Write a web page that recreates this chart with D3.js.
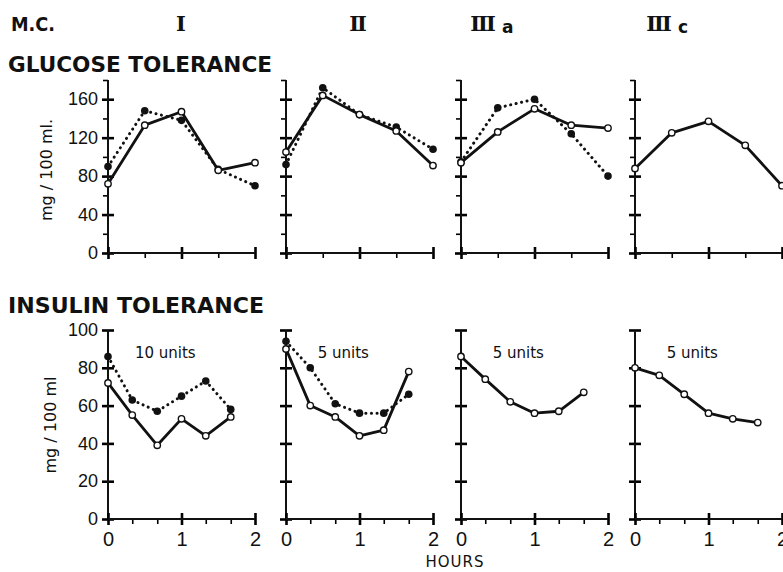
<!DOCTYPE html>
<html>
<head>
<meta charset="utf-8">
<script src="https://cdn.jsdelivr.net/npm/d3@7"></script>
<style>
  body { margin: 0; background: #fff; }
  svg { display: block; font-family: "DejaVu Sans", "Liberation Sans", sans-serif; }
  .tick text { font-size: 18px; fill: #111; }
</style>
</head>
<body>
<svg width="783" height="572"></svg>
<script>
// values (mg/100 ml)
const glucoseHours = [0, 0.5, 1, 1.5, 2];
const insulinHours = [0, 0.33, 0.67, 1, 1.33, 1.67];
const panelNames = ["I", "II", "III", "III"];
const panelSubs = ["", "", "a", "c"];
const doseLabels = ["10 units", "5 units", "5 units", "5 units"];

const glucoseSolid = [
    [72, 133, 147, 86, 94],
    [105, 164, 144, 127, 91],
    [94, 126, 150, 133, 130],
    [88, 125, 137, 112, 70]
];
const glucoseDotted = [
    [90, 148, 138, 87, 70],
    [92, 172, 144, 131, 108],
    [95, 151, 160, 124, 80],
    null
];
const insulinSolid = [
    [72, 55, 39, 53, 44, 54],
    [90, 60, 54, 44, 47, 78],
    [86, 74, 62, 56, 57, 67],
    [80, 76, 66, 56, 53, 51]
];
const insulinDotted = [
    [86, 63, 57, 65, 73, 58],
    [94, 80, 61, 56, 56, 66],
    null,
    null
];

const glucoseMajor = [0, 40, 80, 120, 160];
const glucoseMinor = [20, 60, 100, 140, 180];
const insulinMajor = [0, 20, 40, 60, 80, 100];
const gHourMajor = [0, 1, 2];
const gHourMinor = [0.5, 1.5];
const iHourMinor = [0.33, 0.67, 1.33, 1.67];

const svg = d3.select("svg");
const panelLeft = [108, 286, 461, 635];
const panelW = 147;

const gY = d3.scaleLinear().domain([0, 180]).range([253, 80]);
const iY = d3.scaleLinear().domain([0, 100]).range([519, 330]);

function drawPanel(i, y, yMajor, yMinor, series, hours, xMinor, labelsY, labelsX) {
    const x = d3.scaleLinear().domain([0, 2]).range([panelLeft[i], panelLeft[i] + panelW]);
    const g = svg.append("g");
    const y0 = y(0);

    // y axis
    const ya = g.append("g").attr("transform", `translate(${x(0)},0)`)
        .call(d3.axisLeft(y).tickValues(yMajor).tickSize(6).tickSizeOuter(0).tickPadding(4)
            .tickFormat(labelsY ? d3.format("d") : ""));
    ya.select(".domain").remove();
    ya.selectAll(".tick line").attr("x1", 6).attr("stroke-width", 2.6);
    if (yMinor) {
        const ym = g.append("g").attr("transform", `translate(${x(0)},0)`)
            .call(d3.axisLeft(y).tickValues(yMinor).tickSize(5).tickFormat(""));
        ym.select(".domain").remove();
        ym.selectAll(".tick line").attr("stroke-width", 1.6);
    }
    g.append("line").attr("x1", x(0)).attr("x2", x(0))
        .attr("y1", y0).attr("y2", y(y.domain()[1]))
        .attr("stroke", "#111").attr("stroke-width", 2);

    // x axis
    const xa = g.append("g").attr("transform", `translate(0,${y0})`)
        .call(d3.axisBottom(x).tickValues(gHourMajor).tickSize(6).tickSizeOuter(0).tickPadding(7)
            .tickFormat(labelsX ? d3.format("d") : ""));
    xa.select(".domain").remove();
    xa.selectAll(".tick line").attr("y1", -6).attr("stroke-width", 2.6);
    xa.selectAll(".tick text").style("font-size", "20px");
    const xm = g.append("g").attr("transform", `translate(0,${y0})`)
        .call(d3.axisBottom(x).tickValues(xMinor).tickSize(5).tickFormat(""));
    xm.select(".domain").remove();
    xm.selectAll(".tick line").attr("stroke-width", 1.6);
    g.append("line").attr("x1", x(0)).attr("x2", x(2))
        .attr("y1", y0).attr("y2", y0)
        .attr("stroke", "#111").attr("stroke-width", 2);

    const line = d3.line().x(d => x(d[0])).y(d => y(d[1]));
    const [solid, dotted] = series;

    if (dotted) {
        const pts = hours.map((h, k) => [h, dotted[k]]);
        g.append("path").datum(pts).attr("d", line)
            .attr("fill", "none").attr("stroke", "#111").attr("stroke-width", 3)
            .attr("stroke-linecap", "round").attr("stroke-dasharray", "0.1 5.5");
        g.selectAll(".dot").data(pts).enter().append("circle")
            .attr("cx", d => x(d[0])).attr("cy", d => y(d[1])).attr("r", 3.8)
            .attr("fill", "#111");
    }
    const pts = hours.map((h, k) => [h, solid[k]]);
    g.append("path").datum(pts).attr("d", line)
        .attr("fill", "none").attr("stroke", "#111").attr("stroke-width", 2.8)
        .attr("stroke-linejoin", "round");
    g.selectAll(".open").data(pts).enter().append("circle")
        .attr("cx", d => x(d[0])).attr("cy", d => y(d[1])).attr("r", 3.2)
        .attr("fill", "#fff").attr("stroke", "#111").attr("stroke-width", 1.4);
    return x;
}

panelLeft.forEach((left, i) => {
    drawPanel(i, gY, glucoseMajor, glucoseMinor, [glucoseSolid[i], glucoseDotted[i]],
        glucoseHours, gHourMinor, i === 0, false);
    const x = drawPanel(i, iY, insulinMajor, null, [insulinSolid[i], insulinDotted[i]],
        insulinHours, iHourMinor, i === 0, true);
    svg.append("text").attr("x", x(0.78)).attr("y", 358)
        .attr("text-anchor", "middle").style("font-size", "15px").attr("fill", "#111")
        .text(doseLabels[i]);
});

// headings
svg.append("text").attr("x", 11).attr("y", 31).attr("fill", "#111")
    .attr("textLength", 44).attr("lengthAdjust", "spacingAndGlyphs")
    .style("font-size", "19px").style("font-weight", "bold").text("M.C.");

const numX = [180, 357, 482, 658];
panelNames.forEach((n, i) => {
    svg.append("text").attr("x", numX[i]).attr("y", 31).attr("fill", "#111")
        .attr("text-anchor", "middle")
        .style("font-family", "'DejaVu Serif', serif").style("font-size", "21px")
        .style("font-weight", "bold").style("letter-spacing", "-2px").text(n);
    if (panelSubs[i]) {
        svg.append("text").attr("x", numX[i] + 20).attr("y", 33).attr("fill", "#111")
            .style("font-size", "17px").style("font-weight", "bold").text(panelSubs[i]);
    }
});

svg.append("text").attr("x", 8).attr("y", 72).attr("fill", "#111")
    .attr("textLength", 264).attr("lengthAdjust", "spacingAndGlyphs")
    .style("font-size", "21px").style("font-weight", "bold").text("GLUCOSE TOLERANCE");
svg.append("text").attr("x", 8).attr("y", 313).attr("fill", "#111")
    .attr("textLength", 256).attr("lengthAdjust", "spacingAndGlyphs")
    .style("font-size", "21px").style("font-weight", "bold").text("INSULIN TOLERANCE");

// y axis titles
svg.append("text").attr("transform", "translate(52,170) rotate(-90)")
    .attr("text-anchor", "middle").attr("fill", "#111").style("font-size", "16px")
    .text("mg / 100 ml.");
svg.append("text").attr("transform", "translate(56,425) rotate(-90)")
    .attr("text-anchor", "middle").attr("fill", "#111").style("font-size", "16px")
    .text("mg / 100 ml");

svg.append("text").attr("x", 455).attr("y", 567).attr("text-anchor", "middle")
    .attr("fill", "#111").style("font-size", "15px").style("letter-spacing", "1px").text("HOURS");
</script>
</body>
</html>
